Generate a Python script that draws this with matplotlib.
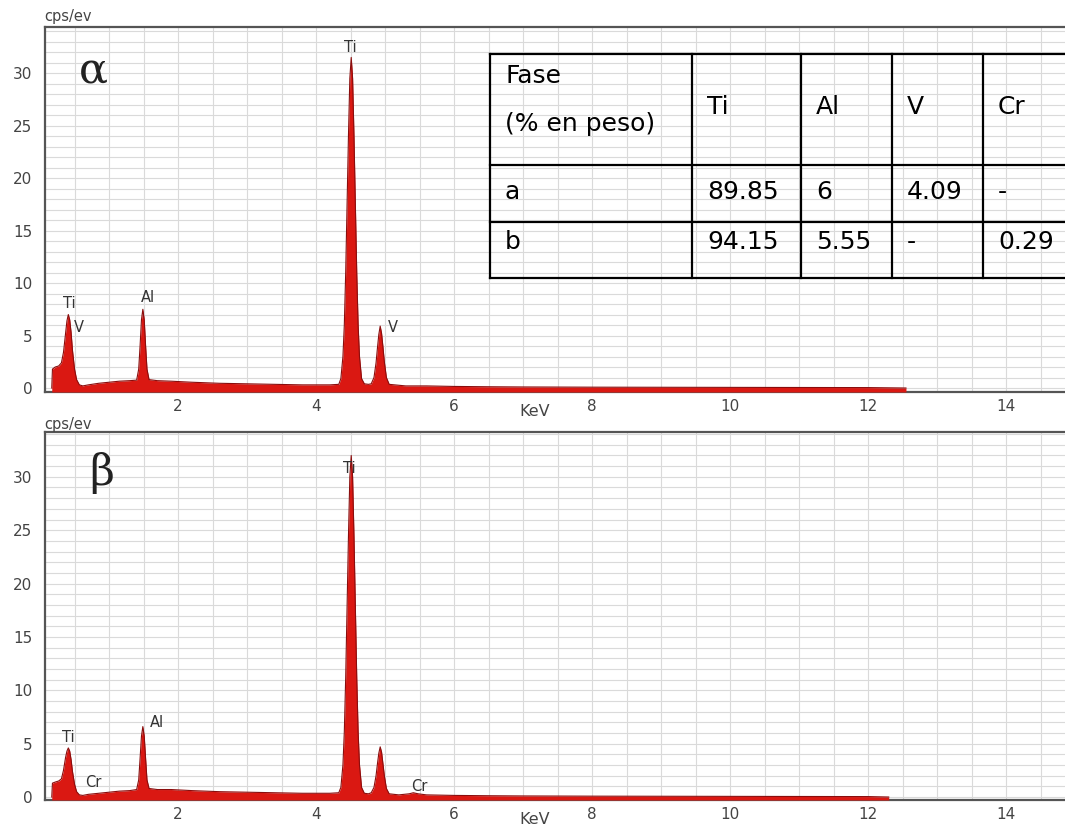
import matplotlib
matplotlib.use('Agg')
import matplotlib.pyplot as plt
import numpy as np

plt.rcParams['font.family'] = ['DejaVu Sans']

# spectrum alpha phase (keV, cps/eV)
E_alpha = [0.17, 0.18, 0.22, 0.27, 0.31, 0.34, 0.37, 0.39, 0.41, 0.43, 0.45, 0.47, 0.50, 0.53, 0.57, 0.62,
           0.70, 0.85, 1.00, 1.15, 1.30, 1.40, 1.43, 1.45, 1.47, 1.49, 1.51, 1.53, 1.55, 1.58,
           1.70, 1.90, 2.20, 2.60, 3.00, 3.40, 3.80, 4.20,
           4.33, 4.36, 4.39, 4.41, 4.43, 4.45, 4.47, 4.49, 4.51, 4.53, 4.55, 4.57, 4.59, 4.61, 4.63, 4.66, 4.70,
           4.76, 4.80, 4.84, 4.87, 4.89, 4.91, 4.93, 4.95, 4.97, 4.99, 5.02, 5.06,
           5.30, 5.60, 6.00, 6.50, 7.00, 8.00, 9.00, 10.00, 11.00, 12.00, 12.55]
I_alpha = [0.0, 1.8, 2.0, 2.1, 2.4, 3.4, 5.2, 6.4, 7.0, 6.5, 5.3, 3.6, 1.8, 0.8, 0.3, 0.2,
           0.3, 0.45, 0.55, 0.65, 0.7, 0.75, 1.8, 4.0, 6.5, 7.5, 6.5, 4.0, 1.8, 0.8,
           0.7, 0.65, 0.55, 0.45, 0.4, 0.35, 0.3, 0.3,
           0.35, 0.9, 3.0, 6.0, 11.0, 17.5, 24.0, 29.5, 31.5, 29.5, 24.0, 17.5, 11.0, 6.0, 3.0, 0.9, 0.4,
           0.35, 0.4, 1.0, 2.4, 3.8, 5.1, 5.9, 5.2, 3.9, 2.5, 1.0, 0.35,
           0.2, 0.2, 0.15, 0.12, 0.1, 0.08, 0.07, 0.06, 0.05, 0.04, 0.0]

# spectrum beta phase
E_beta = [0.17, 0.18, 0.22, 0.27, 0.31, 0.34, 0.37, 0.39, 0.41, 0.43, 0.45, 0.47, 0.50, 0.53, 0.57, 0.62,
          0.70, 0.85, 1.00, 1.15, 1.30, 1.40, 1.43, 1.45, 1.47, 1.49, 1.51, 1.53, 1.55, 1.58,
          1.70, 1.90, 2.20, 2.60, 3.00, 3.40, 3.80, 4.20,
          4.33, 4.36, 4.39, 4.41, 4.43, 4.45, 4.47, 4.49, 4.51, 4.53, 4.55, 4.57, 4.59, 4.61, 4.63, 4.66, 4.70,
          4.76, 4.80, 4.84, 4.87, 4.89, 4.91, 4.93, 4.95, 4.97, 4.99, 5.02, 5.06,
          5.20, 5.35, 5.41, 5.48, 5.60, 6.00, 6.50, 7.00, 8.00, 9.00, 10.00, 11.00, 12.00, 12.30]
I_beta = [0.0, 1.3, 1.4, 1.5, 1.7, 2.5, 3.7, 4.3, 4.6, 4.3, 3.5, 2.4, 1.2, 0.5, 0.2, 0.15,
          0.25, 0.35, 0.45, 0.55, 0.6, 0.7, 1.6, 3.6, 5.7, 6.6, 5.7, 3.6, 1.6, 0.8,
          0.7, 0.7, 0.6, 0.5, 0.45, 0.4, 0.35, 0.35,
          0.4, 0.9, 3.0, 6.1, 11.2, 17.8, 24.4, 30.0, 32.0, 30.0, 24.4, 17.8, 11.2, 6.1, 3.0, 0.9, 0.35,
          0.3, 0.4, 0.9, 2.0, 3.1, 4.1, 4.7, 4.2, 3.1, 2.0, 0.8, 0.3,
          0.2, 0.3, 0.4, 0.3, 0.2, 0.15, 0.12, 0.1, 0.08, 0.07, 0.06, 0.05, 0.04, 0.0]

# peak labels (text, keV, cps/eV)
labels_alpha = [('Ti', 0.43, 8.1), ('V', 0.57, 5.8), ('Al', 1.56, 8.6), ('Ti', 4.49, 32.4), ('V', 5.11, 5.8)]
labels_beta = [('Ti', 0.41, 5.6), ('Cr', 0.77, 1.4), ('Al', 1.69, 7.0), ('Ti', 4.48, 30.8), ('Cr', 5.49, 1.0)]

# composition table
table_rows = [['Fase\n(% en peso)', 'Ti', 'Al', 'V', 'Cr'],
              ['a', '89.85', '6', '4.09', '-'],
              ['b', '94.15', '5.55', '-', '0.29']]

W, H = 1065, 827
fig = plt.figure(figsize=(W / 100, H / 100), dpi=100)

xticks = [2, 4, 6, 8, 10, 12, 14]
yticks = [0, 5, 10, 15, 20, 25, 30]


def panel(rect, E, I, ylim, labels, greek, gx, gy):
    ax = fig.add_axes(rect)
    ax.set_xlim(0.072, 14.855)
    ax.set_ylim(*ylim)
    ax.set_xticks(np.arange(0.5, 15, 0.5), minor=True)
    ax.set_yticks(np.arange(1, 35, 1), minor=True)
    ax.set_xticks(xticks)
    ax.set_yticks(yticks)
    ax.grid(True, which='both', color='#dadada', lw=0.8)
    ax.set_axisbelow(True)
    ax.tick_params(which='both', length=0, labelsize=11, colors='#444444')
    ax.tick_params(axis='x', pad=5)
    ax.tick_params(axis='y', pad=9)
    for s in ['left', 'bottom', 'top']:
        ax.spines[s].set_color('#555555')
        ax.spines[s].set_linewidth(1.6)
    ax.spines['right'].set_visible(False)
    ax.fill_between(E, I, ylim[0], color='#da1812', lw=0, zorder=3)
    ax.plot(E, I, color='#8a0d0d', lw=0.8, zorder=4)
    for t, x, y in labels:
        ax.text(x, y, t, fontsize=10.5, color='#333333', ha='center', va='center', zorder=5)
    ax.text(gx, gy, greek, fontsize=31, family=['DejaVu Serif'],
            color='#222222', ha='center', va='center')
    return ax


ax1 = panel([45 / W, (H - 392) / H, (W - 45) / W, 365 / H], E_alpha, I_alpha,
            (-0.38, 34.4), labels_alpha, '\u03b1', 0.78, 30.2)
ax2 = panel([45 / W, (H - 800) / H, (W - 45) / W, 368 / H], E_beta, I_beta,
            (-0.28, 34.2), labels_beta, '\u03b2', 0.90, 30.4)

# overlay in pixel coords for the table and axis captions
ov = fig.add_axes([0, 0, 1, 1], facecolor='none')
ov.set_xlim(0, W)
ov.set_ylim(H, 0)
ov.axis('off')

for yy in [17, 424]:
    ov.text(44, yy, 'cps/ev', fontsize=10.5, color='#444444', ha='left', va='center')
for yy in [411, 819]:
    ov.text(535, yy, 'KeV', fontsize=11.5, color='#444444', ha='center', va='center')

col_edges = [490, 692, 801, 892, 983, 1075]
row_edges = [54, 165, 222, 278]
for y in row_edges:
    ov.plot([col_edges[0], col_edges[-1]], [y, y], color='black', lw=1.6)
for x in col_edges[:-1]:
    ov.plot([x, x], [row_edges[0], row_edges[-1]], color='black', lw=1.6)

text_y = [None, 192, 242]
for r, row in enumerate(table_rows):
    for c, val in enumerate(row):
        x = col_edges[c] + 15
        if r == 0:
            if c == 0:
                first, second = val.split('\n')
                ov.text(x, 76, first, fontsize=18, ha='left', va='center')
                ov.text(x, 124, second, fontsize=18, ha='left', va='center')
            else:
                ov.text(x, 107, val, fontsize=18, ha='left', va='center')
        else:
            ov.text(x, text_y[r], val, fontsize=18, ha='left', va='center')

fig.savefig('out.png', dpi=100)
